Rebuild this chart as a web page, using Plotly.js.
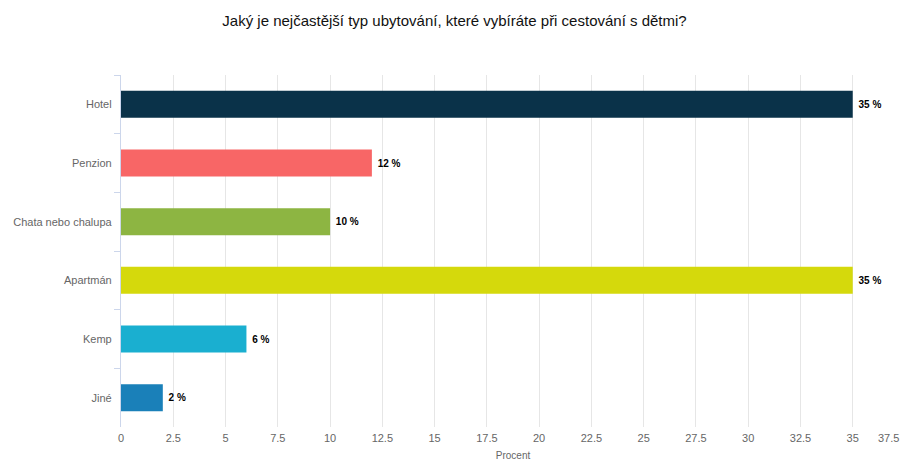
<!DOCTYPE html>
<html>
<head>
<meta charset="utf-8">
<script src="https://cdn.plot.ly/plotly-3.0.1.min.js"></script>
<style>html,body{margin:0;padding:0;background:#fff;}#chart{width:909px;height:461px;}</style>
</head>
<body>
<div id="chart"></div>
<script>
var categories = ["Hotel", "Penzion", "Chata nebo chalupa", "Apartmán", "Kemp", "Jiné"];
var values = [35, 12, 10, 35, 6, 2];
var labels = ["35 %", "12 %", "10 %", "35 %", "6 %", "2 %"];
var colors = ["#0a3249", "#f86666", "#8db542", "#d5d90c", "#1aafd0", "#1a80b9"];
var tickValues = [0, 2.5, 5, 7.5, 10, 12.5, 15, 17.5, 20, 22.5, 25, 27.5, 30, 32.5, 35, 37.5];
var tickLabels = ["0", "2.5", "5", "7.5", "10", "12.5", "15", "17.5", "20", "22.5", "25", "27.5", "30", "32.5", "35", ""];
var lastTick = "37.5";

var trace = {
  type: "bar",
  orientation: "h",
  x: values,
  y: categories,
  text: labels,
  texttemplate: "\u00a0%{text}",
  textposition: "outside",
  cliponaxis: false,
  textfont: {family: "Liberation Sans, Arial, sans-serif", size: 10, color: "#000", weight: "bold"},
  marker: {color: colors},
  width: 0.46,
  hoverinfo: "x+y"
};

var layout = {
  width: 909, height: 461,
  margin: {l: 121, r: 4, t: 75, b: 34},
  paper_bgcolor: "#fff", plot_bgcolor: "#fff",
  showlegend: false,
  font: {family: "Liberation Sans, Arial, sans-serif", color: "#666"},
  title: {text: "Jaký je nejčastější typ ubytování, které vybíráte při cestování s dětmi?",
          font: {size: 15, color: "#111"}, x: 0.5, xanchor: "center", y: 0.955, yanchor: "middle"},
  xaxis: {
    range: [0, 37.5],
    tickvals: tickValues,
    ticktext: tickLabels,
    showgrid: true, gridcolor: "#e6e6e6", gridwidth: 1,
    zeroline: false, showline: false, ticks: "",
    ticklabelstandoff: 3,
    tickfont: {size: 11, color: "#666"},
    title: {text: "Procent", font: {size: 10, color: "#666"}, standoff: 10}
  },
  yaxis: {
    type: "category",
    autorange: "reversed",
    showgrid: false, zeroline: false,
    showline: true, linecolor: "#ccd6eb", linewidth: 1,
    ticks: "outside", tickson: "boundaries", ticklen: 6, tickcolor: "#ccd6eb",
    tickfont: {size: 11, color: "#666"},
    ticksuffix: "  "
  },
  annotations: [{
    text: lastTick, xref: "paper", yref: "paper", x: 1, y: 0,
    xanchor: "right", yanchor: "top", yshift: -3, xshift: -4, showarrow: false,
    font: {size: 11, color: "#666"}
  }]
};

Plotly.newPlot("chart", [trace], layout, {displayModeBar: false, staticPlot: true});
</script>
</body>
</html>
